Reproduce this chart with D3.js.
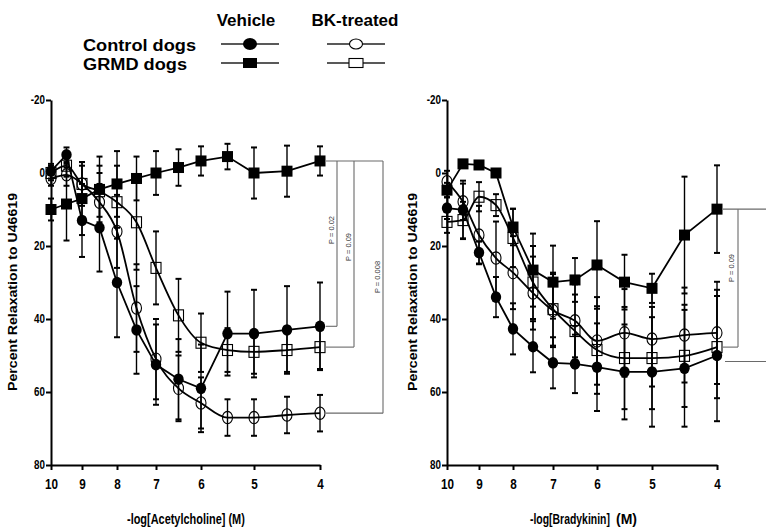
<!DOCTYPE html>
<html>
<head>
<meta charset="utf-8">
<script src="https://cdn.jsdelivr.net/npm/d3@7/dist/d3.min.js"></script>
<style>
  html, body { margin: 0; padding: 0; background: #fff; }
  svg { display: block; }
  .bold { font-family: "Liberation Sans", Arial, sans-serif; font-weight: bold; }
  .narrow { font-family: "Liberation Sans Narrow", "Arial Narrow", "Liberation Sans", Arial, sans-serif; font-weight: bold; }
</style>
</head>
<body>
<svg id="chart" width="766" height="531"></svg>
<script>
// -log molar concentrations of agonist
const doses = [10, 9.5, 9, 8.5, 8, 7.5, 7, 6.5, 6, 5.5, 5, 4.5, 4];
const xTicks = [10, 9, 8, 7, 6, 5, 4];
const yTicks = [-20, 0, 20, 40, 60, 80];

// Acetylcholine: mean % relaxation and SEM
const achCtrlVeh    = [-0.5, -5, 13, 15, 30, 43, 52.5, 56.5, 59, 44, 44, 43, 42];
const achCtrlVehErr = [2, 2, 10, 12, 15, 12, 11, 11, 12, 11.5, 12, 12, 12];
const achGrmdVeh    = [10, 8.5, 7, 4.5, 3, 1.5, 0, -1.5, -3.3, -4.5, 0, -0.5, -3.3];
const achGrmdVehErr = [3, 10, 10, 9, 9, 6, 6, 5, 4, 3.5, 7, 7, 4];
const achCtrlBK     = [1.5, 0.5, 3, 8, 16, 37, 51, 59, 63, 67, 67, 66.3, 65.8];
const achCtrlBKErr  = [2, 3, 6, 8, 10, 12, 11, 9, 7, 5, 5, 5, 5];
const achGrmdBK     = [0, -2, 3, 5, 8, 13.5, 26, 39, 46.5, 48.5, 49, 48.5, 47.7];
const achGrmdBKErr  = [2, 3, 5, 7, 10, 13, 10, 10, 8, 6, 6, 6, 6];

// Bradykinin: mean % relaxation and SEM
const bkCtrlVeh     = [9.6, 10.1, 21.8, 34, 42.7, 47.6, 52, 52.3, 53.2, 54.5, 54.5, 53.5, 50];
const bkCtrlVehErr  = [3, 8, 3, 5.5, 7, 7, 7, 8, 12, 13, 15, 16, 18];
const bkGrmdVeh     = [4.7, -2.5, -2.2, 0, 14.8, 26.6, 29.9, 29.3, 25.2, 29.9, 31.6, 17, 9.9];
const bkGrmdVehErr  = [2, 1, 1, 1, 5, 10, 10, 6, 12, 7.5, 4, 16, 12];
const bkCtrlBK      = [2.4, 7.9, 17, 23.3, 27.3, 32.9, 37.7, 40.5, 46, 43.8, 45.5, 44.4, 43.8];
const bkCtrlBKErr   = [3, 5, 8, 10, 10, 10, 10, 10, 12, 12, 13, 13, 14];
const bkGrmdBK      = [13.4, 12.9, 6.5, 8.8, 17.8, 30, 37.3, 43.3, 48.5, 50.7, 50.7, 50.1, 47.7];
const bkGrmdBKErr   = [3, 5, 4, 3, 8, 10, 10, 10, 12, 14, 14, 14, 14];

const achPValues = ["P = 0.02", "P = 0.09", "P = 0.008"];
const bkPValues = ["P = 0.09"];

const svg = d3.select("#chart");

// marker glyphs
function drawMarker(g, kind, cx, cy) {
  if (kind === "fcircle") {
    g.append("ellipse").attr("cx", cx).attr("cy", cy).attr("rx", 5.2).attr("ry", 5.8).attr("fill", "#000");
  } else if (kind === "ocircle") {
    g.append("ellipse").attr("cx", cx).attr("cy", cy).attr("rx", 5).attr("ry", 6.2)
      .attr("fill", "none").attr("stroke", "#000").attr("stroke-width", 1.1);
  } else if (kind === "fsquare") {
    g.append("rect").attr("x", cx - 5.5).attr("y", cy - 5.5).attr("width", 11).attr("height", 11).attr("fill", "#000");
  } else {
    g.append("rect").attr("x", cx - 5).attr("y", cy - 5.5).attr("width", 10).attr("height", 11)
      .attr("fill", "none").attr("stroke", "#000").attr("stroke-width", 1.1);
  }
}

function drawPanel(cfg) {
  const x = d3.scaleLinear().domain(xTicks).range(cfg.xRange);
  const y = d3.scaleLinear().domain([-20, 80]).range([100, 465]);
  const g = svg.append("g");

  // axes
  const ya = g.append("g").attr("transform", `translate(${x(10)},0)`)
    .call(d3.axisLeft(y).tickValues(yTicks).tickSize(5).tickSizeOuter(0).tickFormat(d => String(d)));
  const xa = g.append("g").attr("transform", `translate(0,${y(80)})`)
    .call(d3.axisBottom(x).tickValues(xTicks).tickSize(5).tickSizeOuter(0).tickFormat(d => String(d)));
  [ya, xa].forEach(a => {
    a.select(".domain").attr("stroke", "#000").attr("stroke-width", 2);
    a.selectAll(".tick line").attr("stroke", "#000").attr("stroke-width", 2);
  });
  // condensed tick numerals
  ya.selectAll(".tick text").attr("class", "narrow").attr("font-size", 12).attr("fill", "#000")
    .attr("x", -7.5).attr("transform", "scale(0.82,1)");
  xa.selectAll(".tick text").attr("class", "narrow").attr("font-size", 15).attr("fill", "#000")
    .attr("y", 13).attr("transform", "scale(0.78,1)");

  // y title
  g.append("text").attr("class", "bold").attr("font-size", 12)
    .attr("transform", `translate(${cfg.yTitleX},292) rotate(-90)`)
    .attr("text-anchor", "middle")
    .attr("textLength", 198).attr("lengthAdjust", "spacingAndGlyphs")
    .text("Percent Relaxation to U46619");

  // x title pieces, condensed horizontally to a set width
  cfg.xTitle.forEach(p => {
    const t = g.append("text").attr("class", p.cls).attr("font-size", 14)
      .attr("x", 0).attr("y", 0).text(p.t);
    const sx = p.len ? p.len / t.node().getComputedTextLength() : 1;
    t.attr("transform", `translate(${p.x},524) scale(${sx},1)`);
  });

  // significance brackets
  const br = g.append("g").attr("fill", "none").attr("stroke", "#6a6a6a").attr("stroke-width", 1.1);
  cfg.brackets(br, x, y);

  // series
  cfg.series.forEach(s => {
    const pts = doses.map((d, i) => ({ d, v: s.values[i], e: s.errs[i] }));
    const sg = g.append("g");
    // error bars
    pts.forEach(p => {
      const px = x(p.d);
      sg.append("line").attr("x1", px).attr("x2", px).attr("y1", y(p.v - p.e)).attr("y2", y(p.v + p.e))
        .attr("stroke", "#000").attr("stroke-width", 1.4);
      [p.v - p.e, p.v + p.e].forEach(vv => {
        sg.append("line").attr("x1", px - 3).attr("x2", px + 3).attr("y1", y(vv)).attr("y2", y(vv))
          .attr("stroke", "#000").attr("stroke-width", 2);
      });
    });
    const line = d3.line().x(p => x(p.d)).y(p => y(p.v))
      .curve(s.smooth ? d3.curveMonotoneX : d3.curveLinear);
    sg.append("path").attr("d", line(pts)).attr("fill", "none").attr("stroke", "#000").attr("stroke-width", 1.8);
    pts.forEach(p => drawMarker(sg, s.kind, x(p.d), y(p.v)));
  });
}

// left panel: acetylcholine
drawPanel({
  xRange: [51, 82, 117, 156, 201, 254, 320],
  yTitleX: 17,
  xTitle: [{ t: "-log[Acetylcholine] (M)", cls: "narrow", len: 118, x: 127 }],
  series: [
    { values: achGrmdBK, errs: achGrmdBKErr, kind: "osquare", smooth: true },
    { values: achCtrlBK, errs: achCtrlBKErr, kind: "ocircle", smooth: true },
    { values: achGrmdVeh, errs: achGrmdVehErr, kind: "fsquare", smooth: false },
    { values: achCtrlVeh, errs: achCtrlVehErr, kind: "fcircle", smooth: false }
  ],
  brackets: (br, x, y) => {
    const x0 = x(4) + 6;
    const top = y(achGrmdVeh[12]);
    const ends = [achCtrlVeh[12], achGrmdBK[12], achCtrlBK[12]];
    const cols = [x(4) + 17, x(4) + 34, x(4) + 63];
    br.append("line").attr("x1", x0).attr("x2", cols[2]).attr("y1", top).attr("y2", top);
    ends.forEach((v, i) => {
      br.append("line").attr("x1", cols[i]).attr("x2", cols[i]).attr("y1", top).attr("y2", y(v));
      br.append("line").attr("x1", x0).attr("x2", cols[i]).attr("y1", y(v)).attr("y2", y(v));
    });
    const labelY = [230, 247, 277];
    achPValues.forEach((t, i) => {
      br.append("text").attr("stroke", "none").attr("fill", "#333").attr("font-size", 7.5)
        .attr("font-family", "Liberation Sans, Arial, sans-serif")
        .attr("transform", `translate(${cols[i] - 3},${labelY[i]}) rotate(-90)`)
        .attr("text-anchor", "middle").text(t);
    });
  }
});

// right panel: bradykinin
drawPanel({
  xRange: [447, 479, 513, 553, 597, 652, 717],
  yTitleX: 417,
  xTitle: [
    { t: "-log[Bradykinin]", cls: "narrow", len: 80, x: 530 },
    { t: "(M)", cls: "bold", x: 616 }
  ],
  series: [
    { values: bkGrmdBK, errs: bkGrmdBKErr, kind: "osquare", smooth: true },
    { values: bkCtrlBK, errs: bkCtrlBKErr, kind: "ocircle", smooth: true },
    { values: bkGrmdVeh, errs: bkGrmdVehErr, kind: "fsquare", smooth: false },
    { values: bkCtrlVeh, errs: bkCtrlVehErr, kind: "fcircle", smooth: false }
  ],
  brackets: (br, x, y) => {
    const x0 = x(4) + 6;
    const top = y(bkGrmdVeh[12]);
    const col = x(4) + 21;
    br.append("line").attr("x1", x0).attr("x2", 766).attr("y1", top).attr("y2", top);
    br.append("line").attr("x1", col).attr("x2", col).attr("y1", top).attr("y2", y(bkGrmdBK[12]));
    br.append("line").attr("x1", x0).attr("x2", col).attr("y1", y(bkGrmdBK[12])).attr("y2", y(bkGrmdBK[12]));
    br.append("line").attr("x1", x0 + 2).attr("x2", 766).attr("y1", y(bkCtrlVeh[12]) + 6).attr("y2", y(bkCtrlVeh[12]) + 6);
    br.append("text").attr("stroke", "none").attr("fill", "#333").attr("font-size", 7.5)
      .attr("font-family", "Liberation Sans, Arial, sans-serif")
      .attr("transform", `translate(${col - 4},268) rotate(-90)`)
      .attr("text-anchor", "middle").text(bkPValues[0]);
  }
});

// legend
const lg = svg.append("g");
lg.append("text").attr("class", "bold").attr("font-size", 17).attr("x", 246).attr("y", 26).attr("text-anchor", "middle").text("Vehicle");
lg.append("text").attr("class", "bold").attr("font-size", 17).attr("x", 355).attr("y", 26).attr("text-anchor", "middle").text("BK-treated");
lg.append("text").attr("class", "bold").attr("font-size", 16).attr("x", 83).attr("y", 51)
  .attr("textLength", 113).attr("lengthAdjust", "spacingAndGlyphs").text("Control dogs");
lg.append("text").attr("class", "bold").attr("font-size", 16).attr("x", 83).attr("y", 70)
  .attr("textLength", 104).attr("lengthAdjust", "spacingAndGlyphs").text("GRMD dogs");
const legendRows = [
  { y: 44, kinds: ["fcircle", "ocircle"] },
  { y: 63, kinds: ["fsquare", "osquare"] }
];
const legendCols = [250, 356];
legendRows.forEach(r => {
  r.kinds.forEach((k, i) => {
    const cx = legendCols[i];
    lg.append("line").attr("x1", cx - 29).attr("x2", cx + 29).attr("y1", r.y).attr("y2", r.y)
      .attr("stroke", "#222").attr("stroke-width", 1.3);
    if (k === "ocircle") {
      lg.append("ellipse").attr("cx", cx).attr("cy", r.y).attr("rx", 6.5).attr("ry", 5)
        .attr("fill", "#fff").attr("stroke", "#000").attr("stroke-width", 1.1);
    } else if (k === "osquare") {
      lg.append("rect").attr("x", cx - 7).attr("y", r.y - 4.5).attr("width", 14).attr("height", 9)
        .attr("fill", "#fff").attr("stroke", "#000").attr("stroke-width", 1.1);
    } else if (k === "fcircle") {
      lg.append("ellipse").attr("cx", cx).attr("cy", r.y).attr("rx", 7).attr("ry", 6).attr("fill", "#000");
    } else {
      lg.append("rect").attr("x", cx - 7).attr("y", r.y - 5).attr("width", 14).attr("height", 10).attr("fill", "#000");
    }
  });
});
</script>
</body>
</html>
